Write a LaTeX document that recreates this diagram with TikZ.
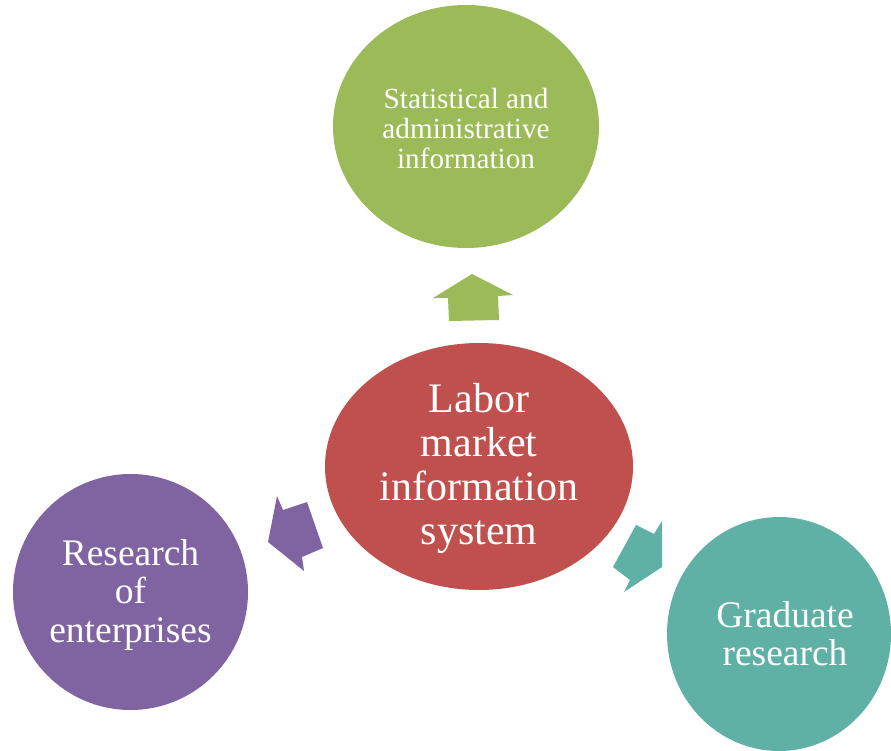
\documentclass[tikz,border=0pt]{standalone}
\usepackage{fontspec}
\setmainfont{Liberation Serif}
\usetikzlibrary{shapes.geometric}
\definecolor{cgreen}{HTML}{9BBB59}
\definecolor{cred}{HTML}{C0504D}
\definecolor{cpurple}{HTML}{8064A2}
\definecolor{cteal}{HTML}{5FB0A5}
\begin{document}
\begin{tikzpicture}[x=1pt,y=-1pt,
  bubble/.style={ellipse,inner sep=0pt,align=center,text=white},
  label text/.style={inner sep=0pt,align=center,text=white}]
\useasboundingbox (0,0) rectangle (891,751);
\clip (0,0) rectangle (891,751);
\node[bubble,fill=cgreen,minimum width=266pt,minimum height=243pt] (stat) at (466,126.5) {};
\node[label text,font=\fontsize{29.2}{30}\selectfont] (stattext) at (466,129)
  {Statistical and\\administrative\\information};
\node[bubble,fill=cred,minimum width=308pt,minimum height=247pt] (lmis) at (479,466.5) {};
\node[label text,font=\fontsize{42}{44}\selectfont] (lmistext) at (479,468)
  {Labor\\market\\information\\system};
\node[bubble,fill=cpurple,minimum width=235pt,minimum height=236pt] (ent) at (130.5,592) {};
\node[label text,font=\fontsize{37.5}{38.5}\selectfont] (enttext) at (130.5,594.5)
  {Research\\of\\enterprises};
\node[bubble,fill=cteal,minimum width=224pt,minimum height=234pt] (grad) at (779,634) {};
\node[label text,font=\fontsize{37.5}{38}\selectfont] (gradtext) at (785,634)
  {Graduate\\research};
% block arrows
\fill[cgreen] (472,274) -- (513,295) -- (498,296) -- (499,320) -- (449,321)
  -- (448,298) -- (433,298) -- cycle;
\fill[cpurple] (268,542) -- (277,496) -- (283,510) -- (307,502) -- (323,548)
  -- (302,557) -- (304,571) -- cycle;
\fill[cteal] (662,567) -- (662,521) -- (654,534) -- (636,525) -- (613,567)
  -- (630,580) -- (624,592) -- cycle;
\end{tikzpicture}
\end{document}
